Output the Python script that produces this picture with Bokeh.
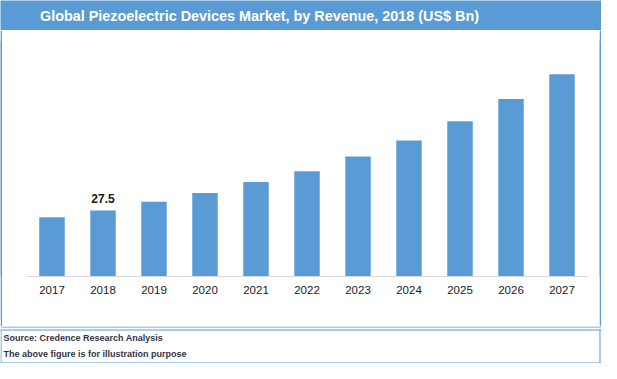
from bokeh.plotting import figure
from bokeh.layouts import column, row
from bokeh.models import FactorRange, Range1d
from bokeh.core.properties import value
from bokeh.embed import file_html
from bokeh.resources import INLINE

# ---- data ----
years = ["2017", "2018", "2019", "2020", "2021", "2022", "2023", "2024", "2025", "2026", "2027"]
revenue = [24.7, 27.5, 31.1, 34.7, 39.3, 43.8, 49.9, 56.6, 64.6, 73.9, 84.2]
labelled_year = ["2018"]
labelled_value = [27.5]
labelled_text = ["27.5"]
title_text = "Global Piezoelectric Devices Market, by Revenue, 2018 (US$ Bn)"
source_text = "Source: Credence Research Analysis"
note_text = "The above figure is for illustration purpose"

BLUE = "#5b9bd5"
W = 601
TITLE_H = 30
MAIN_H = 296
FOOT_H = 37
STRIP = 2


def blank(width, height, bg, xr=None, yr=None):
    f = figure(width=width, height=height, output_backend="svg", toolbar_location=None,
               x_axis_location=None, y_axis_location=None, min_border=0,
               x_range=xr or Range1d(0, width), y_range=yr or Range1d(height, 0),
               background_fill_color=bg, border_fill_color=bg)
    f.outline_line_color = None
    f.grid.visible = False
    return f


# ---- title bar ----
tfig = blank(W, TITLE_H, BLUE)
tfig.text(x=[259], y=[15], text=[title_text], text_align="center", text_baseline="middle",
          text_font=value("Liberation Sans"), text_font_style="bold",
          text_font_size="14.4px", text_color="white")

# ---- main chart ----
MW = W - 2 * STRIP
p = figure(width=MW, height=MAIN_H,
           x_range=FactorRange(factors=years, range_padding=0, factor_padding=0),
           y_range=Range1d(0, 98.2),
           output_backend="svg", toolbar_location=None, y_axis_location=None,
           min_border_left=24, min_border_right=12, min_border_top=10, min_border_bottom=50,
           background_fill_color="white", border_fill_color="white")
p.outline_line_color = None
p.xgrid.visible = False
p.ygrid.visible = False

p.vbar(x=years, top=revenue, width=0.5, fill_color=BLUE, line_color=None)
p.text(x=labelled_year, y=labelled_value, text=labelled_text, text_align="center",
       text_baseline="bottom", y_offset=-7, text_font=value("Liberation Sans"),
       text_font_style="bold", text_font_size="12px", text_color="#1a1a1a")

ax = p.xaxis[0]
ax.axis_line_color = "#d9d9d9"
ax.axis_line_width = 1
ax.major_tick_line_color = None
ax.minor_tick_line_color = None
ax.major_tick_out = 0
ax.major_tick_in = 0
ax.major_label_standoff = 9
ax.major_label_text_font = "Liberation Sans"
ax.major_label_text_font_size = "11.5px"
ax.major_label_text_color = "#1a1a1a"

left_strip = blank(STRIP, MAIN_H, BLUE)
right_strip = blank(STRIP, MAIN_H, BLUE)

# ---- footer ----
ffig = blank(W, FOOT_H, "white")
ffig.quad(left=[0, 0, 0, W - 2, 0], right=[W, W, 1, W - 1, W],
          top=[0, 3, 3, 3, FOOT_H - 1], bottom=[1, 4, FOOT_H, FOOT_H, FOOT_H],
          fill_color=BLUE, line_color=None)
ffig.text(x=[3, 3], y=[11, 27.5], text=[source_text, note_text], text_align="left",
          text_baseline="middle", text_font=value("Liberation Sans"), text_font_style="bold",
          text_font_size="9px", text_color="#333344")

layout = column(tfig, row(left_strip, p, right_strip, spacing=0), ffig, spacing=0)

open("out.html", "w").write(file_html(layout, INLINE))
